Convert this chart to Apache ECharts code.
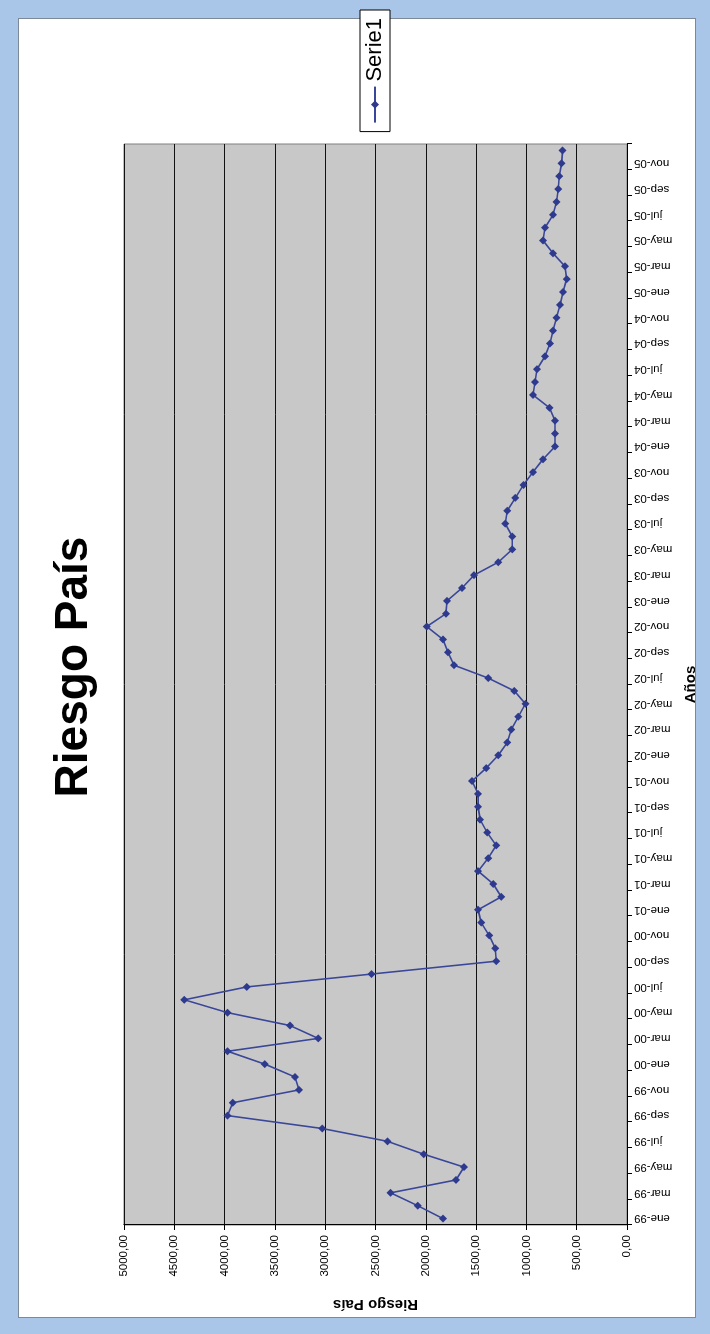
<!DOCTYPE html>
<html>
<head>
<meta charset="utf-8">
<script src="https://cdn.jsdelivr.net/npm/echarts@6/dist/echarts.min.js"></script>
<style>
  html, body { margin: 0; padding: 0; }
  body { width: 710px; height: 1334px; position: relative; overflow: hidden;
         background: #a9c6e8; }
  #frame { position: absolute; left: 18px; top: 18px; width: 676px; height: 1298px;
           background: #ffffff; border: 1px solid #7d8898; }
  #chart { position: absolute; left: 0; top: 0; width: 1334px; height: 710px;
           transform-origin: 0 0; transform: translate(0px, 1334px) rotate(-90deg); }
</style>
</head>
<body>
<div id="frame"></div>
<div id="chart"></div>
<script>
// ---- data ----
const monthNames = ['ene','feb','mar','abr','may','jun','jul','ago','sep','oct','nov','dic'];
const yearLabels = ['99','00','01','02','03','04','05'];
const categories = [];
yearLabels.forEach(function (y) { monthNames.forEach(function (m) { categories.push(m + '-' + y); }); });

const values1999 = [1830, 2080, 2350, 1700, 1620, 2020, 2380, 3030, 3970, 3920, 3260, 3300];
const values2000 = [3600, 3970, 3070, 3350, 3970, 4400, 3780, 2540, 1300, 1310, 1370, 1450];
const values2001 = [1480, 1250, 1330, 1480, 1380, 1300, 1390, 1460, 1480, 1480, 1540, 1400];
const values2002 = [1280, 1190, 1150, 1080, 1010, 1120, 1380, 1720, 1780, 1830, 1990, 1800];
const values2003 = [1790, 1640, 1520, 1280, 1140, 1140, 1210, 1190, 1110, 1030, 935, 835];
const values2004 = [715, 715, 715, 770, 935, 915, 895, 815, 765, 735, 700, 665];
const values2005 = [637, 600, 617, 735, 835, 815, 735, 700, 683, 673, 650, 640];
const serie1 = [].concat(values1999, values2000, values2001, values2002, values2003, values2004, values2005);

const valueTicks = { min: 0, max: 5000, interval: 500 };

const FONT = '"Liberation Sans", Arial, sans-serif';
const chart = echarts.init(document.getElementById('chart'), null, { renderer: 'canvas' });
chart.setOption({
  animation: false,
  backgroundColor: 'transparent',
  title: {
    text: 'Riesgo País', left: 'center', top: 46,
    textStyle: { fontFamily: FONT, fontSize: 46, fontWeight: 'bold', color: '#000' }
  },
  legend: {
    data: ['Serie1'], right: 10, top: 360, orient: 'horizontal',
    backgroundColor: '#fff', borderColor: '#000', borderWidth: 1,
    padding: [4, 8, 4, 8], itemWidth: 36, itemHeight: 10, itemGap: 6,
    textStyle: { fontFamily: FONT, fontSize: 22, color: '#000' }
  },
  grid: {
    left: 109, right: 144, top: 124, bottom: 83, show: true,
    backgroundColor: '#c8c8c8', borderColor: '#808080', borderWidth: 1
  },
  xAxis: {
    type: 'category', data: categories, boundaryGap: true,
    name: 'Años', nameLocation: 'middle', nameGap: 56,
    nameTextStyle: { fontFamily: FONT, fontSize: 15, fontWeight: 'bold', color: '#000' },
    axisLine: { show: true, lineStyle: { color: '#000', width: 1 } },
    axisTick: { show: true, interval: 1, length: 5, lineStyle: { color: '#000' } },
    axisLabel: { interval: 1, rotate: 90, margin: 7, fontFamily: FONT, fontSize: 11.5, color: '#000' },
    splitLine: { show: false }
  },
  yAxis: {
    type: 'value', min: valueTicks.min, max: valueTicks.max, interval: valueTicks.interval,
    name: 'Riesgo País', nameLocation: 'middle', nameRotate: 90, nameGap: 72,
    nameTextStyle: { fontFamily: FONT, fontSize: 15, fontWeight: 'bold', color: '#000' },
    axisLine: { show: true, lineStyle: { color: '#000', width: 1 } },
    axisTick: { show: true, length: 5, lineStyle: { color: '#000' } },
    axisLabel: {
      margin: 10, fontFamily: FONT, fontSize: 11.5, color: '#000',
      formatter: function (v) { return v.toFixed(2).replace('.', ','); }
    },
    splitLine: { show: true, lineStyle: { color: '#111', width: 1 } }
  },
  series: [{
    name: 'Serie1', type: 'line', data: serie1,
    symbol: 'diamond', symbolSize: 8, showSymbol: true,
    itemStyle: { color: '#2d3a8e' },
    lineStyle: { color: '#3a4799', width: 1.6 }
  }]
});
</script>
</body>
</html>
